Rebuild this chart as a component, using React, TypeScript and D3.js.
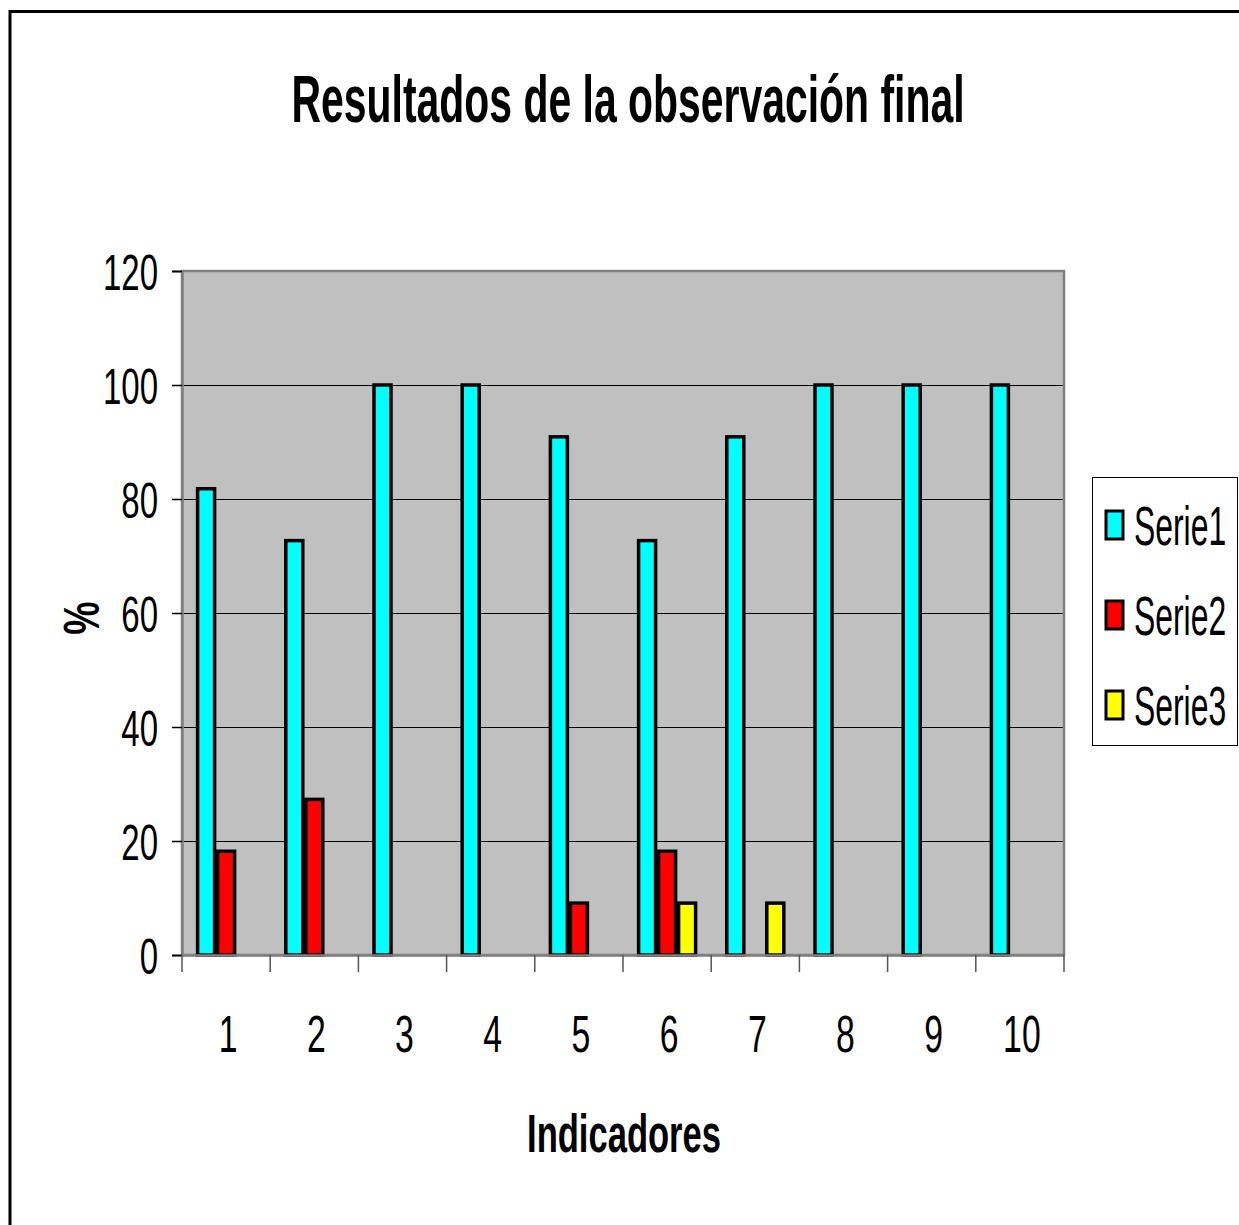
import React, { useEffect, useRef } from "react";
import * as d3 from "d3";

const categories = ["1", "2", "3", "4", "5", "6", "7", "8", "9", "10"];
const serie1 = [81.8, 72.7, 100, 100, 90.9, 72.7, 90.9, 100, 100, 100];
const serie2 = [18.2, 27.3, 0, 0, 9.1, 18.2, 0, 0, 0, 0];
const serie3 = [0, 0, 0, 0, 0, 9.1, 9.1, 0, 0, 0];
const seriesNames = ["Serie1", "Serie2", "Serie3"];
const seriesColors = ["#00FFFF", "#FF0000", "#FFFF00"];
const yTicks = [0, 20, 40, 60, 80, 100, 120];

// no narrow font installed, so texts get squeezed horizontally
const FONT = "'Liberation Sans', Arial, sans-serif";

const App = () => {
  const svgRef = useRef<SVGSVGElement>(null);

  useEffect(() => {
    const W = 1239;
    const H = 1225;
    const plot = { left: 182, right: 1064, top: 271, bottom: 955 };

    const svg = d3.select(svgRef.current);
    svg.selectAll("*").remove();
    svg.attr("width", W).attr("height", H);

    svg.append("rect").attr("width", W).attr("height", H).attr("fill", "#fff");

    // outer chart frame
    svg
      .append("rect")
      .attr("x", 10)
      .attr("y", 11.5)
      .attr("width", 1300)
      .attr("height", 1300)
      .attr("fill", "none")
      .attr("stroke", "#000")
      .attr("stroke-width", 3);

    const narrowText = (x, y, sx, size, bold, anchor, str) =>
      svg
        .append("text")
        .attr("transform", "translate(" + x + "," + y + ") scale(" + sx + ",1)")
        .attr("text-anchor", anchor)
        .attr("font-family", FONT)
        .attr("font-weight", bold ? "bold" : "normal")
        .attr("font-size", size)
        .text(str);

    const x0 = d3
      .scaleBand()
      .domain(categories)
      .range([plot.left, plot.right])
      .padding(0);

    const inner = 60;
    const side = (x0.bandwidth() - inner) / 2;
    const x1 = d3
      .scaleBand()
      .domain(seriesNames)
      .range([side, side + inner])
      .padding(0);

    const y = d3.scaleLinear().domain([0, 120]).range([plot.bottom, plot.top]);

    // plot background
    svg
      .append("rect")
      .attr("x", plot.left)
      .attr("y", plot.top)
      .attr("width", plot.right - plot.left)
      .attr("height", plot.bottom - plot.top)
      .attr("fill", "#C0C0C0");

    // gridlines
    svg
      .append("g")
      .selectAll("line")
      .data(yTicks.filter((d) => d > 0 && d < 120))
      .enter()
      .append("line")
      .attr("x1", plot.left)
      .attr("x2", plot.right)
      .attr("y1", (d) => Math.round(y(d)) + 0.5)
      .attr("y2", (d) => Math.round(y(d)) + 0.5)
      .attr("stroke", "#000")
      .attr("stroke-width", 1);

    // plot border
    svg
      .append("rect")
      .attr("x", plot.left)
      .attr("y", plot.top)
      .attr("width", plot.right - plot.left)
      .attr("height", plot.bottom - plot.top)
      .attr("fill", "none")
      .attr("stroke", "#808080")
      .attr("stroke-width", 2.5);

    // bars
    const data = categories.map((c, i) => ({
      cat: c,
      values: [serie1[i], serie2[i], serie3[i]],
    }));

    const groups = svg
      .append("g")
      .selectAll("g")
      .data(data)
      .enter()
      .append("g")
      .attr("transform", (d) => "translate(" + x0(d.cat) + ",0)");

    groups
      .selectAll("rect")
      .data((d) =>
        d.values.map((v, j) => ({ name: seriesNames[j], value: v, color: seriesColors[j] }))
      )
      .enter()
      .filter((d) => d.value > 0)
      .append("rect")
      .attr("x", (d) => x1(d.name)! + 1.5)
      .attr("width", x1.bandwidth() - 3)
      .attr("y", (d) => y(d.value))
      .attr("height", (d) => y(0) - y(d.value))
      .attr("fill", (d) => d.color)
      .attr("stroke", "#000")
      .attr("stroke-width", 3.5);

    // y axis
    const yAxis = svg
      .append("g")
      .attr("transform", "translate(" + plot.left + ",0)")
      .call(d3.axisLeft(y).tickValues(yTicks).tickSize(10).tickPadding(0));
    yAxis.select(".domain").attr("stroke", "#808080").attr("stroke-width", 2.5);
    yAxis.selectAll(".tick line").attr("stroke", "#000").attr("stroke-width", 1.5);
    yAxis
      .selectAll(".tick text")
      .attr("x", null)
      .attr("transform", "translate(-24,0) scale(0.66,1)")
      .attr("font-family", FONT)
      .attr("font-size", 50)
      .attr("fill", "#000")
      .attr("dy", "0.36em");

    // x axis
    const xAxis = svg
      .append("g")
      .attr("transform", "translate(0," + plot.bottom + ")")
      .call(d3.axisBottom(x0).tickSize(0).tickPadding(0));
    xAxis.select(".domain").attr("stroke", "#808080").attr("stroke-width", 2.5);
    xAxis
      .selectAll(".tick text")
      .attr("y", null)
      .attr("transform", "translate(2,60) scale(0.65,1)")
      .attr("font-family", FONT)
      .attr("font-size", 52)
      .attr("fill", "#000")
      .attr("dy", "0.71em");

    // x boundary ticks
    svg
      .append("g")
      .selectAll("line")
      .data(d3.range(categories.length + 1))
      .enter()
      .append("line")
      .attr("x1", (i) => plot.left + i * x0.bandwidth())
      .attr("x2", (i) => plot.left + i * x0.bandwidth())
      .attr("y1", plot.bottom)
      .attr("y2", plot.bottom + 17)
      .attr("stroke", "#555")
      .attr("stroke-width", 1.5);

    // title
    narrowText(628, 122, 0.62, 66, true, "middle", "Resultados de la observación final");

    // axis titles
    narrowText(624, 1152, 0.64, 54, true, "middle", "Indicadores");

    svg
      .append("text")
      .attr("transform", "translate(99,618) rotate(-90) scale(0.75,1)")
      .attr("text-anchor", "middle")
      .attr("font-family", FONT)
      .attr("font-weight", "bold")
      .attr("font-size", 50)
      .text("%");

    // legend
    const legend = svg.append("g");
    legend
      .append("rect")
      .attr("x", 1092.5)
      .attr("y", 477.5)
      .attr("width", 145)
      .attr("height", 268)
      .attr("fill", "#fff")
      .attr("stroke", "#000")
      .attr("stroke-width", 1);

    const items = legend
      .selectAll("g.item")
      .data(seriesNames)
      .enter()
      .append("g")
      .attr("class", "item")
      .attr("transform", (d, i) => "translate(0," + (525 + i * 90) + ")");

    items
      .append("rect")
      .attr("x", 1106)
      .attr("y", -14)
      .attr("width", 17)
      .attr("height", 28)
      .attr("fill", (d, i) => seriesColors[i])
      .attr("stroke", "#000")
      .attr("stroke-width", 3);

    items
      .append("text")
      .attr("transform", "translate(1134,0) scale(0.58,1)")
      .attr("dy", "0.36em")
      .attr("font-family", FONT)
      .attr("font-size", 55)
      .text((d) => d);
  }, []);

  return (
    <div style={{ position: "absolute", left: 0, top: 0 }}>
      <svg ref={svgRef} style={{ display: "block" }}></svg>
    </div>
  );
};

export default App;
